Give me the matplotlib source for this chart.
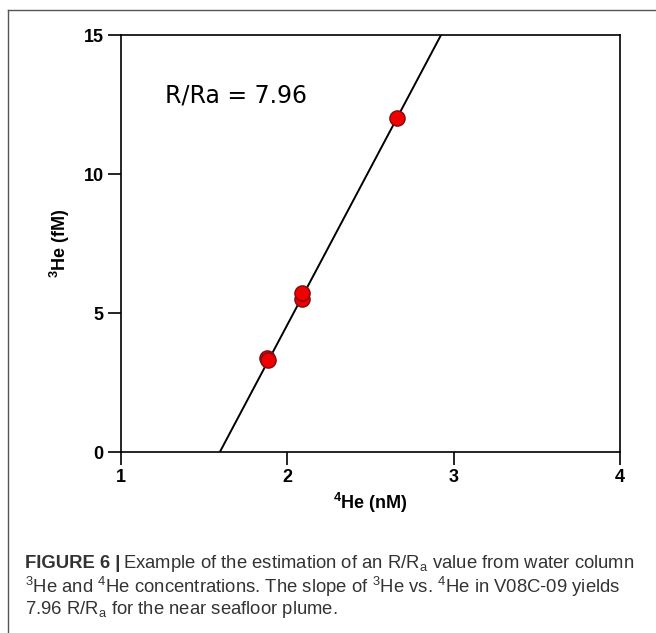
import numpy as np
import matplotlib.pyplot as plt
from matplotlib.lines import Line2D

plt.rcParams['font.family'] = ['Liberation Sans', 'DejaVu Sans']
plt.rcParams['mathtext.fontset'] = 'custom'
plt.rcParams['mathtext.rm'] = 'Liberation Sans'
plt.rcParams['mathtext.bf'] = 'Liberation Sans:bold'

# 4He (nM) and 3He (fM) samples
he4 = [1.88, 1.885, 2.09, 2.09, 2.66]
he3 = [3.38, 3.30, 5.50, 5.72, 12.0]
# fitted line
fit_slope = 11.28
fit_icpt = -17.98
ratio_label = 'R/Ra = 7.96'

xticks = [1, 2, 3, 4]
yticks = [0, 5, 10, 15]

fig = plt.figure(figsize=(6.56, 6.33), dpi=100)
ax = fig.add_axes([0.1845, 0.2859, 0.7607, 0.6588])

xs = np.array([1.0, 4.0])
ax.plot(xs, fit_slope * xs + fit_icpt, color='black', lw=1.4, zorder=2)
ax.scatter(he4, he3, s=120, color='#f00000', edgecolor='#7a1010', linewidth=1.0, zorder=3)

ax.set_xlim(1, 4)
ax.set_ylim(0, 15)
ax.set_xticks(xticks)
ax.set_yticks(yticks)
ax.tick_params(direction='out', length=9.5, width=1.2, labelsize=13, pad=3)
for lab in ax.get_xticklabels() + ax.get_yticklabels():
    lab.set_fontweight('bold')
for sp in ax.spines.values():
    sp.set_linewidth(1.2)

ax.set_xlabel(r'$^{\mathbf{4}}$He (nM)', fontsize=13, fontweight='bold', labelpad=3)
ax.set_ylabel(r'$^{\mathbf{3}}$He (fM)', fontsize=13, fontweight='bold', labelpad=8)

ax.text(0.088, 0.855, ratio_label, transform=ax.transAxes, fontsize=17,
        family='DejaVu Sans', va='center')

# outer frame (cut off at right and bottom)
fig.add_artist(Line2D([8 / 656, 8 / 656], [0, 1 - 10 / 633], color='#555555', lw=1.0))
fig.add_artist(Line2D([8 / 656, 1], [1 - 10 / 633, 1 - 10 / 633], color='#555555', lw=1.0))

# caption
cap_col = '#333333'
cx = 25 / 656
fs = 13.3
renderer = fig.canvas.get_renderer()
t0 = fig.text(cx, 1 - 563 / 633, 'FIGURE 6 |', fontsize=fs, fontweight='bold', color=cap_col, va='center')
bb = t0.get_window_extent(renderer=renderer)
fig.text(bb.x1 / 656 + 0.004, 1 - 563 / 633,
         r'Example of the estimation of an R/R$_{\mathrm{a}}$ value from water column',
         fontsize=fs, color=cap_col, va='center')
fig.text(cx, 1 - 587 / 633,
         r'$^{3}$He and $^{4}$He concentrations. The slope of $^{3}$He vs. $^{4}$He in V08C-09 yields',
         fontsize=fs, color=cap_col, va='center')
fig.text(cx, 1 - 610 / 633, r'7.96 R/R$_{\mathrm{a}}$ for the near seafloor plume.',
         fontsize=fs, color=cap_col, va='center')

fig.savefig('out.png', dpi=100)
